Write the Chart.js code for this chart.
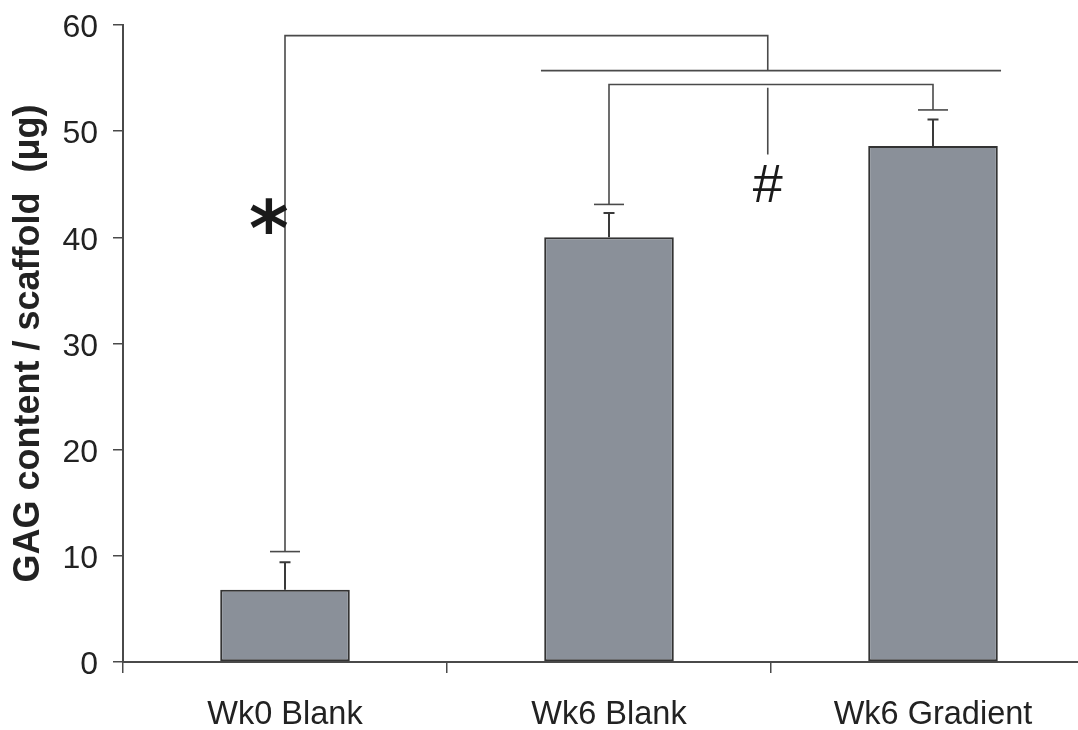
<!DOCTYPE html>
<html>
<head>
<meta charset="utf-8">
<script src="https://cdn.jsdelivr.net/npm/chart.js@4/dist/chart.umd.min.js"></script>
<style>
  html, body { margin: 0; padding: 0; background: #fff; overflow: hidden; width: 1078px; height: 730px; }
  canvas { display: block; }
</style>
</head>
<body>
<canvas id="c" width="1100" height="730"></canvas>
<script>
// ---- data ----
const categories = ['Wk0 Blank', 'Wk6 Blank', 'Wk6 Gradient'];
const gagMeans = [6.8, 40.0, 48.6];
const gagErrors = [2.6, 2.3, 2.5];
const yTicks = [0, 10, 20, 30, 40, 50, 60];
// significance brackets (values in y units, positions in category index units)
const bracketCaps = [10.4, 43.1, 52.0];
const starBracket = { from: 0, to: 1.49, top: 59.0, end: 55.7 };
const groupLine = { from: 0.79, to: 2.21, level: 55.7 };
const hashBracket = { from: 1, to: 2, level: 54.4, stemAt: 1.49, stemTop: 54.1, stemBottom: 47.8 };
const starLabel = { text: '*', at: -0.05, y: 42.0 };
const hashLabel = { text: '#', at: 1.49, y: 45.0 };

const FONT = "'Liberation Sans', Arial, Helvetica, sans-serif";
const LINE = '#4a4a4a';
const TEXT = '#222222';

const annotate = {
  id: 'annotate',
  afterDatasetsDraw(chart) {
    const ctx = chart.ctx;
    const xs = chart.scales.x, ys = chart.scales.y;
    const X = v => xs.getPixelForValue(v);
    const Y = v => ys.getPixelForValue(v);
    ctx.save();
    ctx.lineCap = 'butt';
    // error bars
    ctx.strokeStyle = '#3a3a3a';
    ctx.lineWidth = 2;
    gagMeans.forEach((m, i) => {
      const x = X(i);
      ctx.beginPath();
      ctx.moveTo(x, Y(m)); ctx.lineTo(x, Y(m + gagErrors[i]));
      ctx.moveTo(x - 5.5, Y(m + gagErrors[i])); ctx.lineTo(x + 5.5, Y(m + gagErrors[i]));
      ctx.stroke();
    });
    // bracket caps
    ctx.strokeStyle = LINE;
    ctx.lineWidth = 1.6;
    bracketCaps.forEach((c, i) => {
      const x = X(i);
      ctx.beginPath();
      ctx.moveTo(x - 15, Y(c)); ctx.lineTo(x + 15, Y(c));
      ctx.stroke();
    });
    // star bracket
    ctx.beginPath();
    ctx.moveTo(X(starBracket.from), Y(bracketCaps[0]));
    ctx.lineTo(X(starBracket.from), Y(starBracket.top));
    ctx.lineTo(X(starBracket.to), Y(starBracket.top));
    ctx.lineTo(X(starBracket.to), Y(starBracket.end));
    ctx.stroke();
    // group line
    ctx.beginPath();
    ctx.moveTo(X(groupLine.from), Y(groupLine.level));
    ctx.lineTo(X(groupLine.to), Y(groupLine.level));
    ctx.stroke();
    // hash bracket
    ctx.beginPath();
    ctx.moveTo(X(hashBracket.from), Y(bracketCaps[1]));
    ctx.lineTo(X(hashBracket.from), Y(hashBracket.level));
    ctx.lineTo(X(hashBracket.to), Y(hashBracket.level));
    ctx.lineTo(X(hashBracket.to), Y(bracketCaps[2]));
    ctx.moveTo(X(hashBracket.stemAt), Y(hashBracket.stemTop));
    ctx.lineTo(X(hashBracket.stemAt), Y(hashBracket.stemBottom));
    ctx.stroke();
    // labels
    ctx.fillStyle = '#1a1a1a';
    ctx.textAlign = 'center';
    ctx.textBaseline = 'middle';
    ctx.font = "bold 76px 'DejaVu Sans', sans-serif";
    ctx.fillText(starLabel.text, X(starLabel.at), Y(starLabel.y) + 19);
    ctx.font = "54px " + FONT;
    ctx.fillText(hashLabel.text, X(hashLabel.at), Y(hashLabel.y) + 3);
    ctx.restore();
  }
};

new Chart(document.getElementById('c'), {
  type: 'bar',
  data: {
    labels: categories,
    datasets: [{
      data: gagMeans,
      backgroundColor: '#8a9099',
      borderColor: '#333333',
      borderWidth: 2,
      borderSkipped: false,
      barPercentage: 0.4,
      categoryPercentage: 1.0
    }]
  },
  options: {
    responsive: false,
    devicePixelRatio: 1,
    animation: false,
    layout: { padding: { top: 25, right: 5, bottom: 0, left: 0 } },
    plugins: { legend: { display: false }, tooltip: { enabled: false } },
    scales: {
      x: {
        grid: { display: true, drawOnChartArea: false, drawTicks: true, tickLength: 11, color: LINE, lineWidth: 1.5, offset: true },
        border: { display: true, color: LINE, width: 2 },
        ticks: { color: TEXT, font: { family: FONT, size: 32.5 }, padding: 23, maxRotation: 0, autoSkip: false },
        afterFit(s) { s.height = 68; s.paddingLeft = 0; s.paddingRight = 0; }
      },
      y: {
        min: 0, max: 60,
        afterBuildTicks(s) { s.ticks = yTicks.map(v => ({ value: v })); },
        grid: { display: true, drawOnChartArea: false, drawTicks: true, tickLength: 10, color: LINE, lineWidth: 1.5 },
        border: { display: true, color: LINE, width: 2 },
        ticks: {
          color: TEXT, font: { family: FONT, size: 32, lineHeight: '7px' }, padding: 15,
          callback: v => ['', String(v)]
        },
        title: {
          display: true,
          text: 'GAG content / scaffold  (\u03bcg)',
          color: TEXT,
          font: { family: FONT, size: 36, weight: 'bold', lineHeight: 1.2 },
          padding: { top: 7, bottom: 0 }
        },
        afterFit(s) { s.width = 123; s.paddingTop = 0; s.paddingBottom = 0; }
      }
    }
  },
  plugins: [annotate]
});
</script>
</body>
</html>
